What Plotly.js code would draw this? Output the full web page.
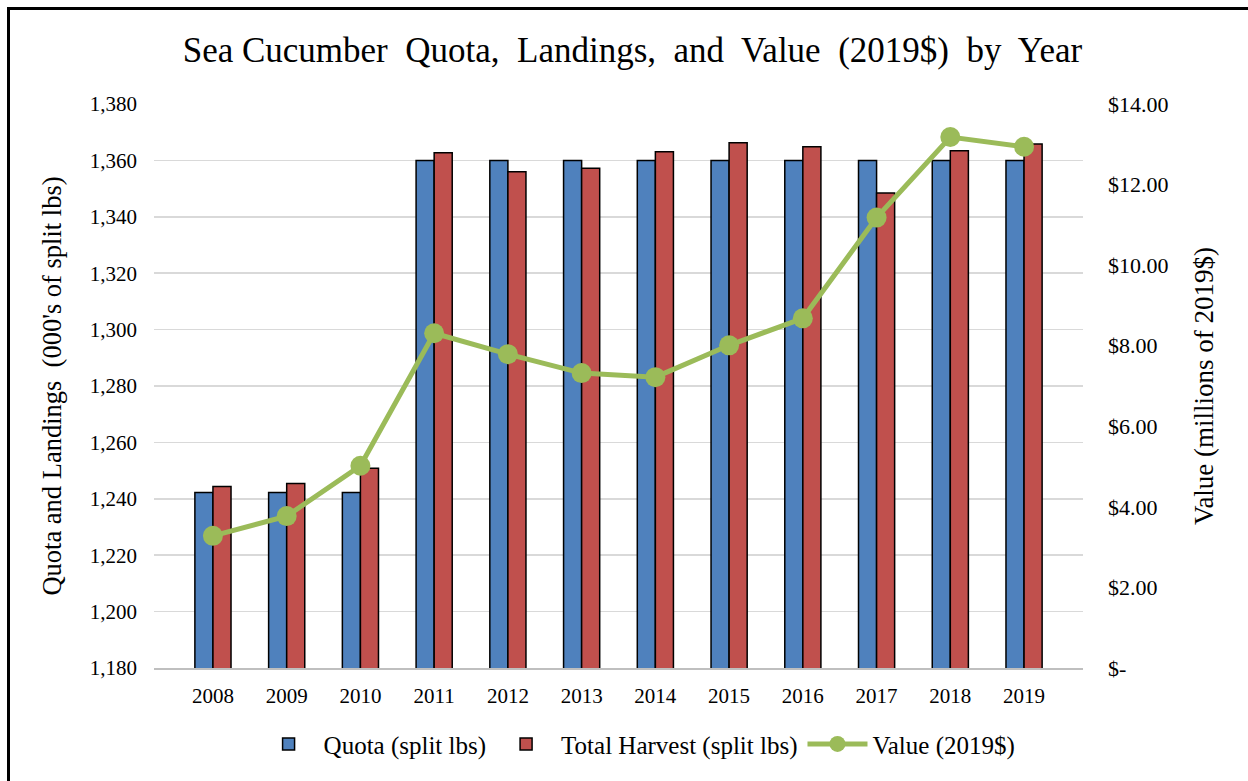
<!DOCTYPE html>
<html>
<head>
<meta charset="utf-8">
<script src="https://cdn.plot.ly/plotly-3.0.1.min.js"></script>
<style>
  html, body { margin: 0; padding: 0; background: #fff; }
  #chart { width: 1248px; height: 781px; position: relative; }
  #frame { position: absolute; left: 7px; top: 7px; right: 0; bottom: 0;
           border-top: 3px solid #000; border-left: 3px solid #000; pointer-events: none; }
</style>
</head>
<body>
<div id="chart"></div>
<div id="frame"></div>
<script>
const years = ['2008','2009','2010','2011','2012','2013','2014','2015','2016','2017','2018','2019'];
const quota = [1242.2, 1242.2, 1242.2, 1360, 1360, 1360, 1360, 1360, 1360, 1360, 1360, 1360];
const harvest = [1244.4, 1245.4, 1250.8, 1362.7, 1356.0, 1357.2, 1363.1, 1366.3, 1364.8, 1348.4, 1363.4, 1365.8];
const value = [3.28, 3.77, 5.02, 8.31, 7.79, 7.32, 7.22, 8.01, 8.68, 11.18, 13.18, 12.94];
const leftTicks = [1180, 1200, 1220, 1240, 1260, 1280, 1300, 1320, 1340, 1360, 1380];
const leftTickText = ['1,180','1,200','1,220','1,240','1,260','1,280','1,300','1,320','1,340','1,360','1,380'];
const rightTicks = [0, 2, 4, 6, 8, 10, 12, 14];
const rightTickText = ['$-', '$2.00', '$4.00', '$6.00', '$8.00', '$10.00', '$12.00', '$14.00'];

const FONT = 'Liberation Serif, Times New Roman, serif';

const traces = [
  { type: 'bar', name: 'Quota (split lbs)', x: years, y: quota,
    marker: { color: '#4F81BD', line: { color: '#000', width: 1.5 } } },
  { type: 'bar', name: 'Total Harvest (split lbs)', x: years, y: harvest,
    marker: { color: '#C0504D', line: { color: '#000', width: 1.5 } } },
  { type: 'scatter', mode: 'lines+markers', name: 'Value (2019$)', x: years, y: value, yaxis: 'y2',
    line: { color: '#9BBB59', width: 5 }, marker: { color: '#9BBB59', size: 20 } }
];

const layout = {
  width: 1248, height: 781,
  paper_bgcolor: '#fff', plot_bgcolor: '#fff',
  margin: { l: 154, r: 165, t: 104, b: 113 },
  font: { family: FONT, color: '#000', size: 21 },
  title: { text: 'Sea Cucumber  Quota,  Landings,  and  Value  (2019$)  by  Year',
           font: { family: FONT, size: 35, color: '#000' },
           x: 0.515, xref: 'paper', y: 1 - 50/781, yref: 'container', yanchor: 'middle' },
  barmode: 'group', bargap: 0.51, bargroupgap: 0,
  showlegend: true,
  legend: { orientation: 'h', x: 0.52, xanchor: 'center', y: -0.135, yanchor: 'middle',
            font: { family: FONT, size: 25, color: '#000' }, traceorder: 'normal', itemwidth: 60 },
  xaxis: { type: 'category', showgrid: false, showline: true, linecolor: '#bfbfbf', linewidth: 1.5,
           ticks: '', tickfont: { family: FONT, size: 21 }, ticklabelstandoff: 8 },
  yaxis: { range: [1180, 1380], tickvals: leftTicks, ticktext: leftTickText,
           showgrid: true, gridcolor: '#d9d9d9', gridwidth: 1.5, zeroline: false, showline: false,
           ticks: '', tickfont: { family: FONT, size: 21 }, ticklabelstandoff: 16,
           title: { text: "Quota and Landings  (000's of split lbs)", font: { family: FONT, size: 26.5 }, standoff: 20 } },
  yaxis2: { range: [0, 14], overlaying: 'y', side: 'right', tickvals: rightTicks, ticktext: rightTickText,
            showgrid: false, zeroline: false, showline: false, ticks: '',
            tickfont: { family: FONT, size: 22 }, ticklabelstandoff: 24,
            title: { text: 'Value (millions of 2019$)', font: { family: FONT, size: 27 }, standoff: 26 } }
};

Plotly.newPlot('chart', traces, layout, { displayModeBar: false, staticPlot: true });
</script>
</body>
</html>
